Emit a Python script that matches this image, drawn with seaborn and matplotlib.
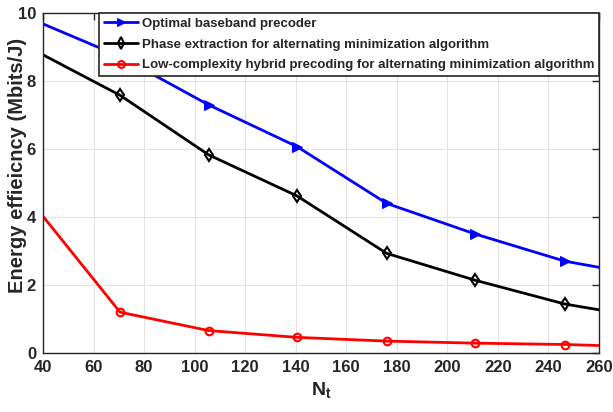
import matplotlib
matplotlib.use("Agg")
import matplotlib.pyplot as plt
import seaborn as sns
import numpy as np

# Data
nt = [40, 70.5, 105.5, 140.5, 176, 211, 246.5, 260]
optimal = [9.68, 8.72, 7.30, 6.07, 4.40, 3.50, 2.70, 2.52]
phase_ext = [8.77, 7.58, 5.83, 4.62, 2.93, 2.14, 1.44, 1.27]
low_cplx = [4.02, 1.20, 0.66, 0.46, 0.35, 0.29, 0.25, 0.22]
labels = ["Optimal baseband precoder",
          "Phase extraction for alternating minimization algorithm",
          "Low-complexity hybrid precoding for alternating minimization algorithm"]
xticks = list(range(40, 261, 20))
yticks = list(range(0, 11, 2))

sns.set_theme(style="whitegrid")
plt.rcParams['font.family'] = ['Liberation Sans', 'DejaVu Sans']
plt.rcParams['font.weight'] = 'bold'
plt.rcParams['mathtext.fontset'] = 'custom'
plt.rcParams['mathtext.bf'] = 'Liberation Sans:bold'
plt.rcParams['mathtext.rm'] = 'Liberation Sans:bold'
plt.rcParams['mathtext.it'] = 'Liberation Sans:bold'
plt.rcParams['mathtext.default'] = 'bf'

fig = plt.figure(figsize=(6.13, 4.12), dpi=100)
ax = fig.add_axes([43/613, 1-353/412, (599-43)/613, (353-13)/412])

mk = [1, 2, 3, 4, 5, 6]
sns.lineplot(x=nt, y=optimal, ax=ax, color='#0000ff', lw=2, marker='>', markersize=6.5,
             markeredgecolor='#0000ff', markerfacecolor='#0000ff', markevery=mk, label=labels[0])
sns.lineplot(x=nt, y=phase_ext, ax=ax, color='black', lw=2, marker='d', markersize=6.5,
             markeredgecolor='black', markerfacecolor='none', markeredgewidth=1.5, markevery=mk, label=labels[1])
sns.lineplot(x=nt, y=low_cplx, ax=ax, color='#ff0000', lw=2, marker='o', markersize=5.5,
             markeredgecolor='#ff0000', markerfacecolor='none', markeredgewidth=1.5, markevery=mk, label=labels[2])

ax.set_xlim(40, 260)
ax.set_ylim(0, 10)
ax.set_xticks(xticks)
ax.set_yticks(yticks)
ax.tick_params(axis='both', which='both', direction='in', length=5, width=1, color='#262626',
               labelsize=12, labelcolor='#262626', top=True, right=True, pad=5)
for lab in ax.get_xticklabels() + ax.get_yticklabels():
    lab.set_fontweight('bold')
ax.grid(True, color='#e3e3e3', linewidth=0.8)
ax.set_facecolor('white')
for s in ax.spines.values():
    s.set_visible(True)
    s.set_color('#262626')
    s.set_linewidth(1.0)

ax.set_xlabel(r'$N_t$', fontsize=14, fontweight='bold', color='#262626', labelpad=4)
ax.set_ylabel('Energy effieicncy (Mbits/J)', fontsize=14.5, fontweight='bold', color='#262626')
ax.yaxis.set_label_coords((27-43)/556, (353-165)/340)

leg = ax.legend(loc='upper right', bbox_to_anchor=(1.0, 1.0), borderaxespad=0, frameon=True,
                fancybox=False, edgecolor='#262626', framealpha=1, prop={'weight': 'bold', 'size': 9.5},
                handlelength=2.6, handletextpad=0.3, labelspacing=0.65, borderpad=0.35,
                markerscale=0.9)
leg.get_frame().set_linewidth(1.2)

fig.savefig('out.png', dpi=100)
